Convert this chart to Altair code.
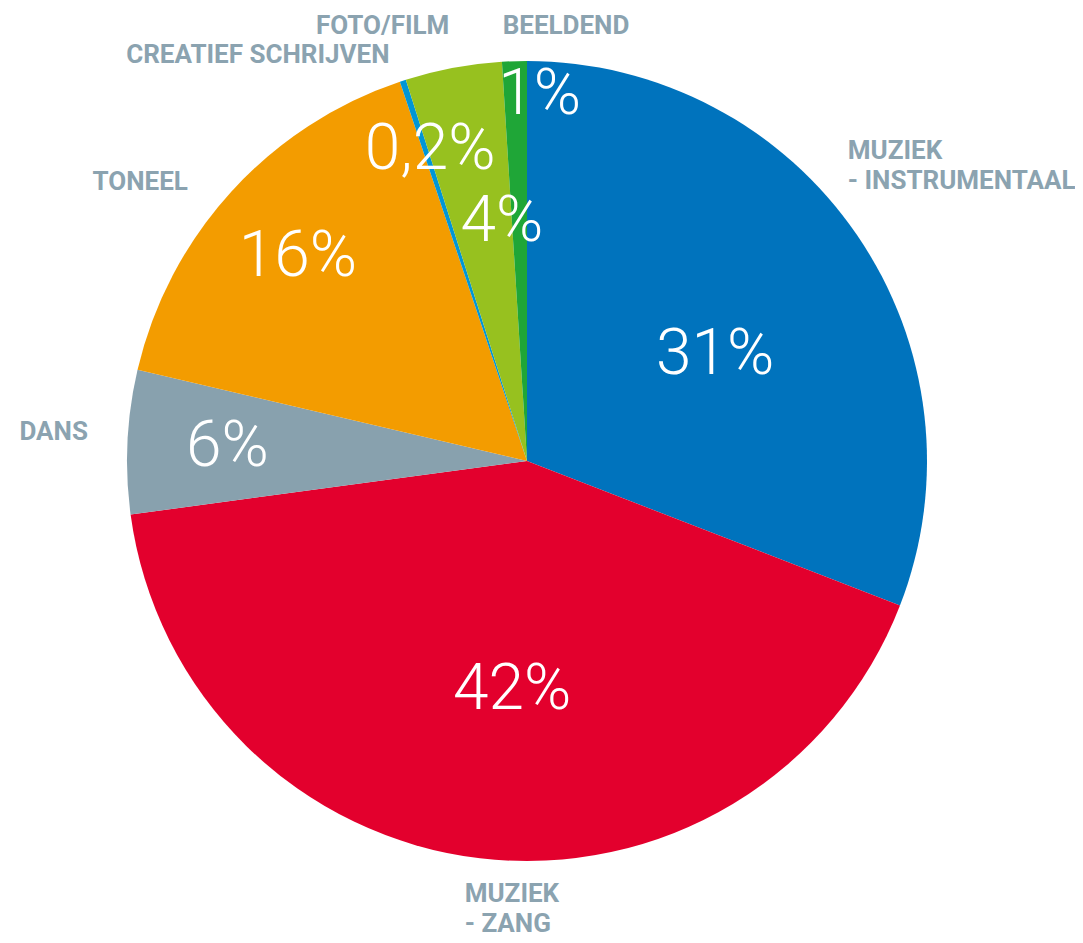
import math
import altair as alt
import pandas as pd

# ---- data ----
categories = ["Muziek - instrumentaal", "Muziek - zang", "Dans", "Toneel",
              "Creatief schrijven", "Foto/film", "Beeldend"]
shares = [30.9, 42.0, 5.8, 16.2, 0.25, 3.9, 1.0]
pct_labels = ["31%", "42%", "6%", "16%", "0,2%", "4%", "1%"]
name_labels = ["MUZIEK\n- INSTRUMENTAAL", "MUZIEK\n- ZANG", "DANS", "TONEEL",
               "CREATIEF SCHRIJVEN", "FOTO/FILM", "BEELDEND"]

# ---- styling / layout ----
colors = ["#0073bd", "#e3002d", "#88a1ae", "#f39c00", "#0096d6", "#97c11f", "#1fa637"]
label_color = "#8ba3b0"
pct_shift = [5.0, -3.0, 0.0, -0.6, 0.8, 4.6, 3.8]        # degrees from slice middle
pct_radius = [216, 229, 300, 307, 326, 240, 366]
name_shift = [-9.6, 1.45, 1.0, -2.9, -0.6, 0.5, -1.4]
name_radius = [446, 437, 440, 439, 429, 442, 436]
name_align = ["left", "left", "right", "right", "right", "right", "left"]
PIE_R = 400

df = pd.DataFrame({
    "category": categories,
    "share": shares,
    "pct": pct_labels,
    "name": name_labels,
    "order": list(range(len(categories))),
    "pshift": pct_shift,
    "pr": pct_radius,
    "nshift": name_shift,
    "nr": name_radius,
    "nalign": name_align,
})

base = alt.Chart(df)

pie = base.mark_arc(outerRadius=PIE_R).encode(
    theta=alt.Theta("share:Q", stack=True),
    color=alt.Color("category:N", scale=alt.Scale(domain=categories, range=colors), legend=None),
    order=alt.Order("order:Q"),
)

polar = (
    base.transform_window(cum="sum(share)", frame=[None, 0], sort=[alt.SortField("order")])
    .transform_joinaggregate(total="sum(share)")
    .transform_calculate(mid="(datum.cum - datum.share / 2) / datum.total * 360")
    .transform_calculate(pa="datum.mid + datum.pshift", na="datum.mid + datum.nshift")
)
ang_scale = alt.Scale(domain=[0, 360], range=[0, 2 * math.pi])

pct_text = polar.mark_text(
    font="Roboto", fontWeight=300, fontSize=64, color="white",
    align="center", baseline="middle",
).encode(
    theta=alt.Theta("pa:Q", scale=ang_scale, stack=False),
    radius=alt.Radius("pr:Q", scale=None),
    text="pct:N",
)

name_layers = []
for al in ["left", "right"]:
    name_layers.append(
        polar.transform_filter(alt.datum.nalign == al).mark_text(
            font="Roboto", fontWeight="bold", fontSize=26, color=label_color,
            align=al, baseline="middle", lineBreak="\n", lineHeight=30,
        ).encode(
            theta=alt.Theta("na:Q", scale=ang_scale, stack=False),
            radius=alt.Radius("nr:Q", scale=None),
            text="name:N",
        )
    )

labels = alt.layer(pct_text, *name_layers)

chart = alt.layer(pie, labels).resolve_scale(theta="independent").properties(
    width=1038, height=906,
    autosize=alt.AutoSizeParams(type="none"),
    padding={"left": 0, "top": 0, "right": 29, "bottom": 20},
).configure_view(stroke=None)

chart.save("out.html", embed_options={"renderer": "svg", "actions": False})
